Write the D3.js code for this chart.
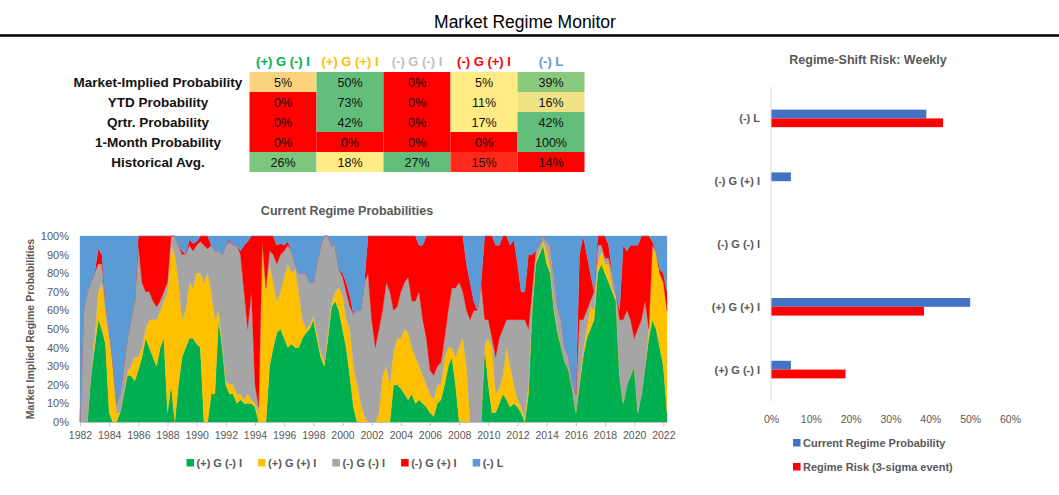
<!DOCTYPE html>
<html><head><meta charset="utf-8">
<script src="https://cdn.jsdelivr.net/npm/d3@7/dist/d3.min.js"></script>
<style>
body{margin:0;background:#fff;}
svg{display:block;font-family:"Liberation Sans",Arial,sans-serif;}
</style>
</head><body>
<svg id="c" width="1059" height="495"></svg>
<script>
// ---------------- DATA ----------------
const regimes = ["(+) G (-) I","(+) G (+) I","(-) G (-) I","(-) G (+) I","(-) L"];
const tableRows = ["Market-Implied Probability","YTD Probability","Qrtr. Probability","1-Month Probability","Historical Avg."];
const marketImplied = [5,50,0,5,39];
const ytdProb = [0,73,0,11,16];
const qtrProb = [0,42,0,17,42];
const monthProb = [0,0,0,0,100];
const histAvg = [26,18,27,15,14];

// quarterly samples starting 1982.00
const startYear = 1982, stepYears = 0.25;
const greenSeries = [
 0,0,0,25, 40,55,50,42, 5,0,0,5, 15,25,25,22, 28,35,45,40, 35,30,40,45, 5,20,0,20, 35,40,45,45,
 42,40,0,0, 15,15,55,40, 20,15,15,10, 12,10,10,10, 8,0,0,0, 30,40,48,50, 45,40,42,40, 40,45,48,50,
 55,45,35,30, 45,62,65,60, 50,40,25,8, 0,0,0,0, 0,0,0,0, 0,0,20,20, 18,15,12,15, 10,12,10,8,
 5,3,10,12, 20,30,35,20, 0,0,0,0, 0,0,0,40, 20,5,5,10, 15,12,8,10, 8,5,0,15, 60,85,90,95,
 85,80,60,48, 40,32,28,18, 5,20,35,45, 50,55,80,85, 80,75,70,65, 25,10,20,25, 30,5,15,30, 45,55,50,40, 30,5];
const yellowSeries = [
 0,0,0,0, 5,15,25,15, 40,30,5,0, 0,2,5,13, 7,5,5,15, 20,25,20,20, 65,75,90,55, 20,20,30,27,
 38,40,75,80, 55,40,5,2, 2,5,5,5, 3,2,5,2, 2,5,95,70, 55,35,17,20, 33,45,38,42, 30,10,2,2,
 2,3,3,2, 3,2,5,12, 18,15,25,22, 20,10,3,0, 0,0,5,25, 30,20,18,25, 27,35,36,25, 25,18,15,12,
 10,9,10,8, 15,10,5,15, 40,45,30,0, 0,0,0,2, 25,35,10,8, 10,28,22,10, 4,3,2,5, 2,2,2,2,
 7,2,2,1, 0,0,0,0, 0,2,3,5, 12,5,5,7, 5,10,2,2, 0,0,0,0, 0,0,0,0, 5,40,40,40, 45,55];
const graySeries = [
 0,60,70,50, 35,15,10,8, 5,2,5,10, 15,18,25,30, 60,35,20,15, 10,7,5,5, 5,5,10,20, 35,30,20,20,
 15,17,20,13, 25,37,32,48, 73,77,75,80, 75,58,35,58, 10,3,2,2, 7,15,20,20, 14,10,12,3, 10,25,30,23,
 18,37,57,68, 52,31,25,10, 10,15,12,28, 40,50,72,80, 55,40,45,35, 45,50,22,17, 25,25,30,25, 30,40,30,25,
 13,13,10,12, 10,20,32,37, 35,25,30,55, 60,60,75,13, 10,5,20,27, 25,15,25,35, 43,47,53,30, 8,5,3,3,
 5,13,18,13, 15,8,7,4, 10,33,17,10, 3,10,10,3, 3,3,8,3, 30,45,40,30, 15,45,40,35, 0,0,2,0, 0,0];
const redSeries = [
 0,0,0,0, 0,8,5,0, 0,0,0,0, 0,0,0,0, 5,25,30,30, 35,38,35,30, 25,0,0,0, 2,0,3,4,
 2,3,5,7, 0,0,0,0, 0,1,0,0, 2,25,47,30, 80,92,3,28, 8,10,10,6, 3,2,0,0, 0,0,0,0,
 0,0,0,0, 0,0,0,0, 2,5,6,0, 0,0,0,20, 45,60,50,40, 25,30,40,38, 30,25,22,35, 35,25,40,55,
 72,75,70,68, 55,40,28,28, 25,30,25,20, 5,0,0,45, 45,55,60,50, 50,45,40,43, 30,15,15,40, 20,0,0,0,
 0,0,0,0, 0,0,0,0, 0,35,45,30, 15,0,5,5, 12,7,0,0, 5,40,32,40, 50,45,45,35, 50,2,0,2, 5,10];
const blueSeries = [
 100,40,30,25, 20,7,10,35, 50,68,90,85, 70,55,45,35, 0,0,0,0, 0,0,0,0, 0,0,0,5, 8,10,2,4,
 3,0,0,0, 5,8,8,10, 5,2,5,5, 8,5,3,0, 0,0,0,0, 0,0,5,4, 5,3,8,15, 20,20,20,25,
 25,15,5,0, 0,5,5,18, 20,25,32,42, 40,40,25,0, 0,0,0,0, 0,0,0,0, 0,0,0,0, 0,5,5,0,
 0,0,0,0, 0,0,0,0, 0,0,15,25, 35,40,25,0, 0,0,5,5, 0,0,5,2, 15,30,30,10, 10,8,5,0,
 3,5,20,38, 45,60,65,78, 85,10,0,10, 20,30,0,0, 0,5,20,30, 40,5,8,5, 5,5,0,0, 0,3,8,18, 20,30];
const yearTicks = d3.range(1982, 2023, 2);
const pctTicks = [0,0.1,0.2,0.3,0.4,0.5,0.6,0.7,0.8,0.9,1];

// bar chart
const barCategories = ["(+) G (-) I","(+) G (+) I","(-) G (-) I","(-) G (+) I","(-) L"];
const currentProb = [5,50,0,5,39];
const regimeRisk = [18.7,38.4,0,0,43.2];
const barTicks = [0,10,20,30,40,50,60];

// ---------------- STYLES ----------------
const regimeColors = ["#00b050","#ffc000","#a5a5a5","#ff0000","#5b9bd5"];
const headerColors = ["#00b050","#ffc000","#bfbfbf","#ff0000","#5b9bd5"];
const cellFills = [
 ["#fdd27f","#63be7b","#ff0000","#ffeb84","#8ac97d"],
 ["#ff0000","#63be7b","#ff0000","#ffeb84","#f0e385"],
 ["#ff0000","#63be7b","#ff0000","#ffeb84","#63be7b"],
 ["#ff0000","#ff0000","#ff0000","#ff0000","#63be7b"],
 ["#7dc67d","#ffeb84","#63be7b","#ff2a1a","#ff0000"]];
const grayText = "#595959";

const svg = d3.select("#c");

// ---------------- TITLE ----------------
svg.append("text").attr("x",525).attr("y",28).attr("text-anchor","middle")
  .attr("font-size",17.5).attr("fill","#000").text("Market Regime Monitor");
svg.append("line").attr("x1",0).attr("x2",1059).attr("y1",35.5).attr("y2",35.5)
  .attr("stroke","#000").attr("stroke-width",2.5);

// ---------------- TABLE ----------------
const tableData = [marketImplied, ytdProb, qtrProb, monthProb, histAvg];
const colX = d3.scaleBand().domain(d3.range(5)).range([249.5,584.5]);
const rowY = d3.scaleBand().domain(d3.range(5)).range([72,172]);
svg.selectAll(".hdr").data(regimes).join("text")
  .attr("x",(d,i)=>colX(i)+colX.bandwidth()/2).attr("y",65.5)
  .attr("text-anchor","middle").attr("font-size",13).attr("font-weight","bold")
  .attr("fill",(d,i)=>headerColors[i]).text(d=>d);
svg.selectAll(".rl").data(tableRows).join("text")
  .attr("x",158).attr("y",(d,i)=>rowY(i)+rowY.bandwidth()/2+5)
  .attr("text-anchor","middle").attr("font-size",13.5).attr("font-weight","bold")
  .attr("fill","#111").text(d=>d);
tableData.forEach((row,r)=>{
  row.forEach((v,c)=>{
    svg.append("rect").attr("x",colX(c)).attr("y",rowY(r))
      .attr("width",colX.bandwidth()).attr("height",rowY.bandwidth())
      .attr("fill",cellFills[r][c]);
    svg.append("text").attr("x",colX(c)+colX.bandwidth()/2).attr("y",rowY(r)+rowY.bandwidth()/2+4.5)
      .attr("text-anchor","middle").attr("font-size",12.5).attr("fill","#111").text(v+"%");
  });
});

// ---------------- STACKED AREA ----------------
const rows = greenSeries.map((g,i)=>({
  t: startYear + i*stepYears,
  [regimes[0]]: g, [regimes[1]]: yellowSeries[i], [regimes[2]]: graySeries[i],
  [regimes[3]]: redSeries[i], [regimes[4]]: blueSeries[i]}));
const stack = d3.stack().keys(regimes).offset(d3.stackOffsetExpand);
const stacked = stack(rows);
const ax = d3.scaleLinear().domain([1982, rows[rows.length-1].t]).range([80,667]);
const ay = d3.scaleLinear().domain([0,1]).range([422,236]);
const area = d3.area().x(d=>ax(d.data.t)).y0(d=>ay(d[0])).y1(d=>ay(d[1]));
svg.append("g").selectAll("path").data(stacked).join("path")
  .attr("d",area).attr("fill",(d,i)=>regimeColors[i]).attr("stroke",(d,i)=>regimeColors[i]).attr("stroke-width",0.3);

svg.append("text").attr("x",347).attr("y",215).attr("text-anchor","middle")
  .attr("font-size",12.5).attr("font-weight","bold").attr("fill",grayText).text("Current Regime Probabilities");

const yAx = svg.append("g").attr("transform","translate(80,0)")
  .call(d3.axisLeft(ay).tickValues(pctTicks).tickFormat(d3.format(".0%")).tickSize(0).tickPadding(11));
yAx.select(".domain").remove();
yAx.selectAll("text").attr("font-size",11).attr("fill",grayText).attr("font-family","Liberation Sans, Arial, sans-serif");

const xAx = svg.append("g").attr("transform","translate(0,422)")
  .call(d3.axisBottom(ax).tickValues(yearTicks).tickFormat(d3.format("d")).tickSize(4).tickSizeOuter(0).tickPadding(6));
xAx.select(".domain").attr("stroke","#bfbfbf");
xAx.selectAll("line").attr("stroke","#bfbfbf");
xAx.selectAll("text").attr("font-size",10.5).attr("fill",grayText).attr("font-family","Liberation Sans, Arial, sans-serif");

svg.append("text").attr("transform","translate(34,329) rotate(-90)").attr("text-anchor","middle")
  .attr("font-size",10.5).attr("font-weight","bold").attr("fill",grayText).text("Market Implied Regime Probabilities");

// area legend
const lg = svg.append("g");
let lx = 0;
regimes.forEach((r,i)=>{
  const g = lg.append("g").attr("transform",`translate(${lx},0)`);
  g.append("rect").attr("x",0).attr("y",-8).attr("width",7.5).attr("height",7.5).attr("fill",regimeColors[i]);
  const t = g.append("text").attr("x",10).attr("y",0).attr("font-size",11).attr("font-weight","bold")
    .attr("fill",grayText).text(r);
  lx += 10 + t.node().getComputedTextLength() + 16;
});
lg.attr("transform",`translate(${345 - (lx-16)/2},467)`);

// ---------------- BAR CHART ----------------
svg.append("text").attr("x",868).attr("y",64).attr("text-anchor","middle")
  .attr("font-size",12.5).attr("font-weight","bold").attr("fill",grayText).text("Regime-Shift Risk: Weekly");
const bx = d3.scaleLinear().domain([0,60]).range([771,1010]);
const by = d3.scaleBand().domain(barCategories.slice().reverse()).range([87,401]).paddingInner(0.72).paddingOuter(0.36);
const sub = d3.scaleBand().domain(["cur","risk"]).range([0,by.bandwidth()]);
const barG = svg.append("g");
barCategories.forEach((c,i)=>{
  barG.append("rect").attr("x",bx(0)).attr("y",by(c)+sub("cur")).attr("width",bx(currentProb[i])-bx(0))
    .attr("height",sub.bandwidth()).attr("fill","#4472c4");
  barG.append("rect").attr("x",bx(0)).attr("y",by(c)+sub("risk")).attr("width",bx(regimeRisk[i])-bx(0))
    .attr("height",sub.bandwidth()).attr("fill","#ff0000");
});
svg.append("line").attr("x1",771).attr("x2",771).attr("y1",87).attr("y2",401).attr("stroke","#d9d9d9");
svg.selectAll(".bcat").data(barCategories).join("text")
  .attr("x",760).attr("y",d=>by(d)+by.bandwidth()/2+4)
  .attr("text-anchor","end").attr("font-size",11).attr("font-weight","bold").attr("fill",grayText).text(d=>d);
const bxAx = svg.append("g").attr("transform","translate(0,401)")
  .call(d3.axisBottom(bx).tickValues(barTicks).tickFormat(d=>d+"%").tickSize(0).tickPadding(15));
bxAx.select(".domain").remove();
bxAx.selectAll("text").attr("font-size",10.5).attr("fill",grayText).attr("font-family","Liberation Sans, Arial, sans-serif");

const bl = [["Current Regime Probability","#4472c4",447],["Regime Risk (3-sigma event)","#ff0000",471]];
bl.forEach(([label,col,y])=>{
  svg.append("rect").attr("x",793).attr("y",y-8).attr("width",7.5).attr("height",7.5).attr("fill",col);
  svg.append("text").attr("x",803).attr("y",y).attr("font-size",11).attr("font-weight","bold")
    .attr("fill",grayText).text(label);
});
</script>
</body></html>
